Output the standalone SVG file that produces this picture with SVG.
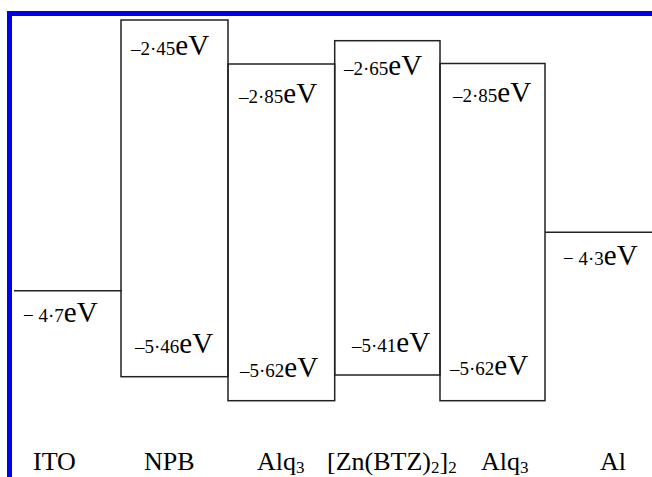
<svg xmlns="http://www.w3.org/2000/svg" width="652" height="477" viewBox="0 0 652 477">
<style>
.bar{fill:#0000ee}
.lv{fill:none;stroke:#222;stroke-width:1.5}
text{font-family:"Liberation Serif","Times New Roman",serif;fill:#000}
.n{font-size:19px}
.u{font-size:29px}
.lab{font-size:26px}
.sub{font-size:17px}
</style>
<rect width="652" height="477" fill="#fff"/>
<g id="frame">
<rect class="bar" x="7" y="11" width="645" height="5"/>
<rect class="bar" x="7" y="11" width="5" height="466"/>
</g>
<g id="connectors">
<line class="lv" x1="14" y1="290.7" x2="122" y2="290.7"/>
<line class="lv" x1="545" y1="232.3" x2="652" y2="232.3"/>
</g>
<g id="ITO">
<text x="23" y="322"><tspan class="n">− 4·7</tspan><tspan class="u">eV</tspan></text>
<text class="lab" x="33" y="470">ITO</text>
</g>
<g id="NPB">
<rect class="lv" x="121" y="20" width="107" height="356.7"/>
<text x="131" y="55"><tspan class="n">–2·45</tspan><tspan class="u">eV</tspan></text>
<text x="135" y="353"><tspan class="n">–5·46</tspan><tspan class="u">eV</tspan></text>
<text class="lab" x="144" y="470">NPB</text>
</g>
<g id="Alq3a">
<rect class="lv" x="228" y="64" width="106.7" height="336.7"/>
<text x="239" y="103"><tspan class="n">–2·85</tspan><tspan class="u">eV</tspan></text>
<text x="240" y="377"><tspan class="n">–5·62</tspan><tspan class="u">eV</tspan></text>
<text class="lab" x="257" y="470">Alq<tspan class="sub" dy="3">3</tspan></text>
</g>
<g id="ZnBTZ">
<rect class="lv" x="334.7" y="40.7" width="105.3" height="334.3"/>
<text x="344" y="75"><tspan class="n">–2·65</tspan><tspan class="u">eV</tspan></text>
<text x="352" y="352"><tspan class="n">–5·41</tspan><tspan class="u">eV</tspan></text>
<text class="lab" x="327" y="470">[Zn(BTZ)<tspan class="sub" dy="3">2</tspan><tspan dy="-3">]</tspan><tspan class="sub" dy="3">2</tspan></text>
</g>
<g id="Alq3b">
<rect class="lv" x="440" y="63.5" width="105" height="337.2"/>
<text x="453" y="102"><tspan class="n">–2·85</tspan><tspan class="u">eV</tspan></text>
<text x="450" y="375"><tspan class="n">–5·62</tspan><tspan class="u">eV</tspan></text>
<text class="lab" x="481" y="470">Alq<tspan class="sub" dy="3">3</tspan></text>
</g>
<g id="Al">
<text x="563" y="265"><tspan class="n">− 4·3</tspan><tspan class="u">eV</tspan></text>
<text class="lab" x="600" y="470">Al</text>
</g>
</svg>
